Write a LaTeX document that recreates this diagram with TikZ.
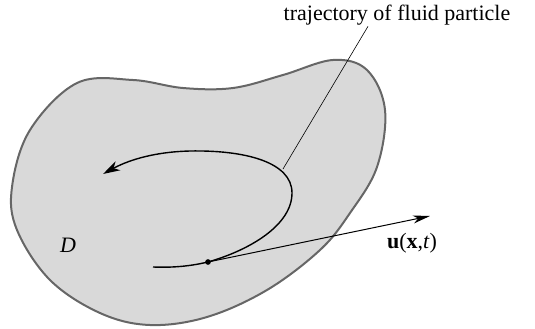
\documentclass[tikz,border=0pt]{standalone}
\usepackage{fontspec}
\setmainfont{Liberation Serif}
\usetikzlibrary{arrows.meta}

\begin{document}
\begin{tikzpicture}[
    x=1pt, y=-1pt,
    region/.style={draw=black!60, fill=black!15, line width=2pt},
    path line/.style={line width=1.4pt, -{Stealth[length=17pt, width=10pt, inset=5pt]}},
    vel/.style={line width=1pt, -{Stealth[length=17pt, width=8pt, inset=5pt]}},
    label/.style={font=\fontsize{22}{26}\selectfont, inner sep=1pt}
]
    \useasboundingbox (0,0) rectangle (535,329);

    % domain D
    \draw[region] plot[smooth cycle, tension=0.6] coordinates {
        (12,187) (30,130) (77,83) (133,80) (183,88) (233,88) (283,75)
        (333,60) (367,70) (385,110) (377,167) (350,213) (320,250)
        (267,290) (207,317) (150,325) (100,313) (50,280) (17,230)};

    \node[circle, fill, inner sep=2pt] (p) at (208,262) {};
    \coordinate (tip) at (430,216);
    \coordinate (lead) at (283,169);

    % trajectory
    \draw[path line] (153,267) .. controls (178,268) and (195,265) .. (p.center)
        .. controls (250,250) and (292,225) .. (292,193)
        .. controls (292,162) and (245,150) .. (190,151)
        .. controls (150,152) and (125,162) .. (103,174);

    \node[label] (traj) at (397,15) {trajectory of fluid particle};
    \node[label] (u) at (412,243) {\textbf{u}(\textbf{x},\textit{t})};
    \node[label] (D) at (68,245) {\textit{D}};

    \draw[vel] (p.center) -- (tip);
    \draw[line width=0.6pt] (lead) -- ([xshift=-29pt]traj.south);
\end{tikzpicture}
\end{document}
